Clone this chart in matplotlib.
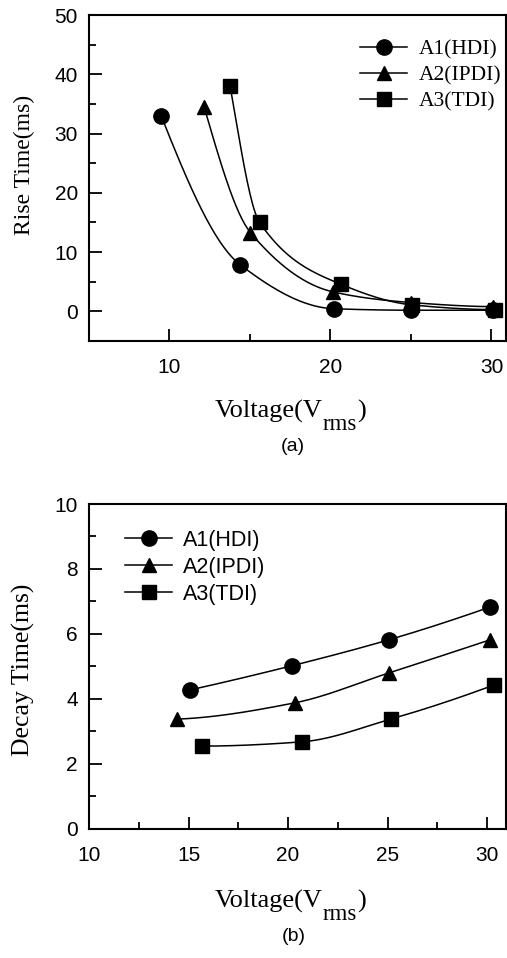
import numpy as np
import matplotlib
matplotlib.use("Agg")
import matplotlib.pyplot as plt
from matplotlib.ticker import MultipleLocator

plt.rcParams['font.family'] = ['Liberation Sans', 'DejaVu Sans']
SERIF = 'Liberation Serif'

# (a) rise time
names = ["A1(HDI)", "A2(IPDI)", "A3(TDI)"]
marks = ["o", "^", "s"]
msize = [11, 10, 9.5]

rise_v = [[9.5, 14.38, 20.22, 25.0, 30.08],
          [12.15, 15.03, 20.15, 25.0, 30.08],
          [13.76, 15.6, 20.63, 25.07, 30.23]]
rise_t = [[32.9, 7.9, 0.45, 0.2, 0.2],
          [34.5, 13.3, 3.3, 1.5, 0.8],
          [38.1, 15.0, 4.6, 1.1, 0.3]]

# (b) decay time
decay_v = [[15.09, 20.18, 25.06, 30.15],
           [14.43, 20.33, 25.06, 30.15],
           [15.69, 20.68, 25.16, 30.35]]
decay_t = [[4.28, 5.02, 5.82, 6.83],
           [3.38, 3.88, 4.8, 5.82],
           [2.55, 2.68, 3.38, 4.43]]


def pchip(x, y, n=200):
    # monotone cubic curve through the points, only for drawing the line
    x = np.asarray(x, float); y = np.asarray(y, float)
    h = np.diff(x); d = np.diff(y) / h
    m = np.zeros_like(x)
    for k in range(1, len(x) - 1):
        if d[k-1] * d[k] > 0:
            w1 = 2*h[k] + h[k-1]; w2 = h[k] + 2*h[k-1]
            m[k] = (w1 + w2) / (w1/d[k-1] + w2/d[k])
    m[0] = ((2*h[0] + h[1])*d[0] - h[0]*d[1]) / (h[0] + h[1])
    if np.sign(m[0]) != np.sign(d[0]): m[0] = 0
    elif np.sign(d[0]) != np.sign(d[1]) and abs(m[0]) > abs(3*d[0]): m[0] = 3*d[0]
    m[-1] = ((2*h[-1] + h[-2])*d[-1] - h[-1]*d[-2]) / (h[-1] + h[-2])
    if np.sign(m[-1]) != np.sign(d[-1]): m[-1] = 0
    elif np.sign(d[-1]) != np.sign(d[-2]) and abs(m[-1]) > abs(3*d[-1]): m[-1] = 3*d[-1]
    xs = np.linspace(x[0], x[-1], n)
    i = np.clip(np.searchsorted(x, xs) - 1, 0, len(x) - 2)
    t = (xs - x[i]) / h[i]
    h00 = 2*t**3 - 3*t**2 + 1; h10 = t**3 - 2*t**2 + t
    h01 = -2*t**3 + 3*t**2; h11 = t**3 - t**2
    ys = h00*y[i] + h10*h[i]*m[i] + h01*y[i+1] + h11*h[i]*m[i+1]
    return xs, ys


def style(ax):
    for s in ax.spines.values():
        s.set_linewidth(1.5)
    ax.tick_params(which='both', direction='in', top=False, right=False,
                   labelsize=15, width=1.3)
    ax.tick_params(axis='x', pad=12)
    ax.tick_params(axis='y', pad=8)
    ax.tick_params(which='major', length=9)
    ax.tick_params(which='minor', length=5)


def volt_label(ax, y):
    # Voltage(V_rms) with a large, low subscript like the original
    t1 = ax.text(0.302, y, "Voltage(V", transform=ax.transAxes, ha='left',
                 va='baseline', family=SERIF, fontsize=19)
    t2 = ax.annotate("rms", xy=(1, 0), xycoords=t1, xytext=(0, -4.5),
                     textcoords='offset points', ha='left', va='baseline',
                     family=SERIF, fontsize=16.5)
    ax.annotate(")", xy=(1, 0), xycoords=(t2, t1), ha='left', va='bottom',
                family=SERIF, fontsize=19)


fig = plt.figure(figsize=(5.07, 9.58), dpi=100)
ax1 = fig.add_axes([0.1755, 0.644, 0.8225, 0.3403])
ax2 = fig.add_axes([0.1755, 0.1347, 0.8225, 0.3392])

for k in range(3):
    xs, ys = pchip(rise_v[k], rise_t[k])
    ax1.plot(xs, ys, color='black', lw=1.1)
    ax1.plot(rise_v[k], rise_t[k], ls='none', marker=marks[k], ms=msize[k], color='black')
    ax1.plot([], [], color='black', lw=1.1, marker=marks[k], ms=msize[k], label=names[k])

    xs, ys = pchip(decay_v[k], decay_t[k])
    ax2.plot(xs, ys, color='black', lw=1.1)
    ax2.plot(decay_v[k], decay_t[k], ls='none', marker=marks[k], ms=msize[k], color='black')
    ax2.plot([], [], color='black', lw=1.1, marker=marks[k], ms=msize[k], label=names[k])

ax1.set_xlim(5, 30.9)
ax1.set_ylim(-5, 50)
ax1.xaxis.set_major_locator(MultipleLocator(10))
ax1.xaxis.set_minor_locator(MultipleLocator(5))
ax1.yaxis.set_major_locator(MultipleLocator(10))
ax1.yaxis.set_minor_locator(MultipleLocator(5))
style(ax1)
ax1.set_ylabel("Rise Time(ms)", family=SERIF, fontsize=17)
ax1.yaxis.set_label_coords(-0.13, 0.54)
volt_label(ax1, -0.236)
ax1.legend(loc='upper left', bbox_to_anchor=(0.65, 0.925), frameon=False,
           handlelength=2.2, handletextpad=0.55, labelspacing=0.27,
           borderpad=0, borderaxespad=0, prop={'family': SERIF, 'size': 15.5})
ax1.text(0.49, -0.322, "(a)", transform=ax1.transAxes, ha='center', va='center', fontsize=14)

ax2.set_xlim(10, 30.95)
ax2.set_ylim(0, 10)
ax2.xaxis.set_major_locator(MultipleLocator(5))
ax2.xaxis.set_minor_locator(MultipleLocator(2.5))
ax2.yaxis.set_major_locator(MultipleLocator(2))
ax2.yaxis.set_minor_locator(MultipleLocator(1))
style(ax2)
ax2.set_ylabel("Decay Time(ms)", family=SERIF, fontsize=18.5)
ax2.yaxis.set_label_coords(-0.13, 0.49)
volt_label(ax2, -0.243)
ax2.legend(loc='upper left', bbox_to_anchor=(0.086, 0.92), frameon=False,
           handlelength=2.2, handletextpad=0.5, labelspacing=0.27,
           borderpad=0, borderaxespad=0, prop={'family': 'Liberation Sans', 'size': 15.5})
ax2.text(0.49, -0.332, "(b)", transform=ax2.transAxes, ha='center', va='center', fontsize=14)

fig.savefig("out.png", dpi=100)
